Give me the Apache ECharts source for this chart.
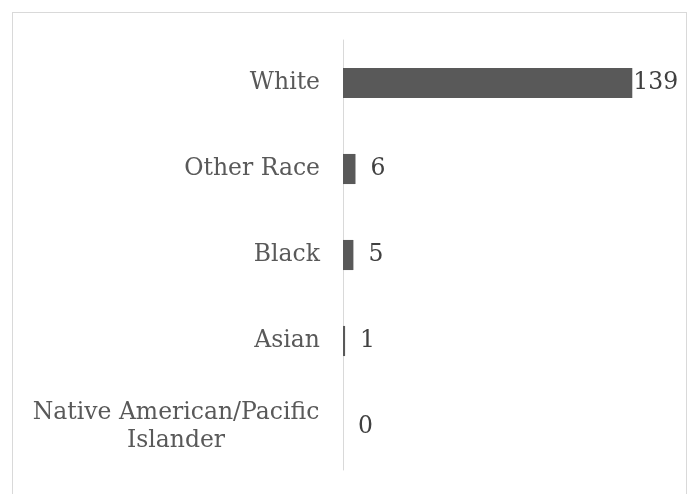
<!DOCTYPE html>
<html>
<head>
<meta charset="utf-8">
<script src="https://cdn.jsdelivr.net/npm/echarts@6/dist/echarts.min.js"></script>
<style>
html,body{margin:0;padding:0;background:#fff;}
#frame{position:absolute;left:12px;top:12px;width:675px;height:490px;border:1px solid #d9d9d9;box-sizing:border-box;}
#main{position:absolute;left:0;top:0;width:689px;height:494px;}
</style>
</head>
<body>
<div id="frame"></div>
<div id="main"></div>
<script>
// 类别（从下到上）
var categories = ['Native American/Pacific Islander', 'Asian', 'Black', 'Other Race', 'White'];
// 人数
var counts = [0, 1, 5, 6, 139];

var mychart = echarts.init(document.getElementById('main'));
// 最长的那根柱子标签贴着柱子
var barData = counts.map(function (v) {
    if (v === Math.max.apply(null, counts)) {
        return {value: v, label: {distance: 1}};
    }
    return v;
});
var option = {
    animation: false,
    textStyle: {fontFamily: 'DejaVu Serif'},
    grid: {left: 343, right: 13, top: 40, bottom: 24},
    xAxis: {
        type: 'value',
        min: 0,
        max: 160,
        show: false
    },
    yAxis: {
        type: 'category',
        data: categories,
        axisLine: {show: true, lineStyle: {color: '#d9d9d9', width: 1}},
        axisTick: {show: false},
        axisLabel: {
            margin: 23,
            color: '#595959',
            fontSize: 23.5,
            fontFamily: 'DejaVu Serif',
            formatter: function (v) {
                //长标签分两行居中
                if (v.indexOf('/Pacific') > 0) {
                    return '{c|Native American/Pacific}\n{c|Islander}';
                }
                return v;
            },
            rich: {
                c: {width: 288, align: 'center', fontSize: 23.5, color: '#595959', fontFamily: 'DejaVu Serif', lineHeight: 28}
            }
        }
    },
    series: [{
        type: 'bar',
        data: barData,
        barWidth: '35%',
        itemStyle: {color: '#595959'},
        label: {
            show: true,
            position: 'right',
            distance: 15,
            color: '#404040',
            fontSize: 23.5,
            fontFamily: 'DejaVu Serif'
        }
    }]
};
mychart.setOption(option);
</script>
</body>
</html>
